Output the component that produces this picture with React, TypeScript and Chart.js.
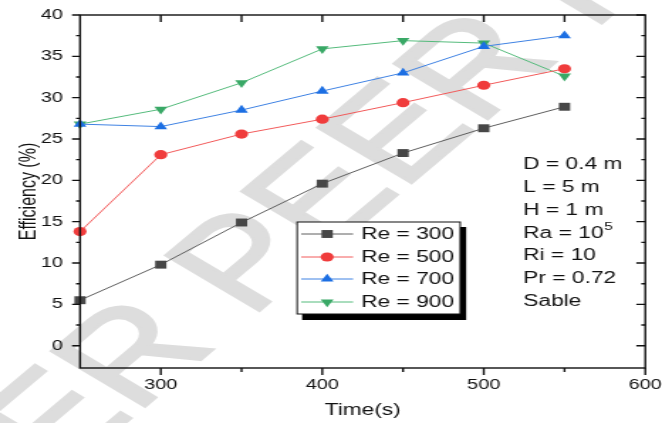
import React, { useEffect, useRef } from "react";
import { Chart, registerables } from "chart.js";
Chart.register(...registerables);

// ---- data ----
const timeValues = [250, 300, 350, 400, 450, 500, 550];
const re300 = [5.5, 9.8, 14.9, 19.6, 23.3, 26.3, 28.9];
const re500 = [13.8, 23.1, 25.6, 27.4, 29.4, 31.5, 33.5];
const re700 = [26.8, 26.5, 28.5, 30.8, 33.0, 36.2, 37.5];
const re900 = [26.8, 28.6, 31.8, 35.9, 36.9, 36.6, 32.6];
const seriesNames = ["Re = 300", "Re = 500", "Re = 700", "Re = 900"];
const xTickValues = [300, 400, 500, 600];
const xMinorValues = [350, 450, 550];
const yTickValues = [0, 5, 10, 15, 20, 25, 30, 35, 40];
const yMinorValues = [2.5, 7.5, 12.5, 17.5, 22.5, 27.5, 32.5, 37.5];
const infoLines = ["D = 0.4 m", "L = 5 m", "H = 1 m", "Ra = 10|5", "Ri = 10", "Pr = 0.72", "Sable"];
const watermarkText = "ER PEER R";

// ---- style ----
const S = 1.42; // horizontal stretch of the picture
const W = 662;
const H = 423;
const CW = Math.round(W / S);
const FONT = "'Liberation Sans', Arial, sans-serif";
const markerColors = ["#474747", "#f03c3c", "#1c6fe3", "#39a866"];
const lineColors = ["#5e5e5e", "#f25a5a", "#3f82e3", "#55bb7c"];
const pointStyles = ["rect", "circle", "triangle", "triangle"];
const pointRots = [0, 0, 0, 180];
const pointRadii = [5.6, 4.6, 5.2, 5.2];

function drawMarker(ctx: CanvasRenderingContext2D, idx: number, x: number, y: number) {
  const r = pointRadii[idx];
  ctx.fillStyle = markerColors[idx];
  ctx.beginPath();
  if (idx === 0) {
    const s = r * Math.SQRT1_2;
    ctx.rect(x - s, y - s, 2 * s, 2 * s);
  } else if (idx === 1) {
    ctx.arc(x, y, r, 0, Math.PI * 2);
  } else {
    const dir = idx === 2 ? -1 : 1;
    ctx.moveTo(x, y + dir * r);
    ctx.lineTo(x + r * Math.sin(Math.PI / 3), y - dir * r * 0.5);
    ctx.lineTo(x - r * Math.sin(Math.PI / 3), y - dir * r * 0.5);
    ctx.closePath();
  }
  ctx.fill();
}

const decorPlugin = {
  id: "decor",
  beforeDraw(chart: any) {
    const ctx = chart.ctx as CanvasRenderingContext2D;
    ctx.save();
    ctx.translate(42, 478);
    ctx.rotate((-50 * Math.PI) / 180);
    ctx.font = `125px ${FONT}`;
    ctx.fillStyle = "#dddddd";
    ctx.strokeStyle = "#dddddd";
    ctx.lineWidth = 2.5;
    ctx.textBaseline = "alphabetic";
    ctx.fillText(watermarkText, 0, 0);
    ctx.strokeText(watermarkText, 0, 0);
    ctx.restore();
  },
  afterDraw(chart: any) {
    const ctx = chart.ctx as CanvasRenderingContext2D;
    const { left, right, top, bottom } = chart.chartArea;
    const xs = chart.scales.x;
    const ys = chart.scales.y;
    ctx.save();
    ctx.strokeStyle = "#111";
    ctx.lineWidth = 1.4;
    ctx.strokeRect(left, top, right - left, bottom - top);
    ctx.beginPath();
    yTickValues.forEach((v) => {
      const y = ys.getPixelForValue(v);
      ctx.moveTo(left, y);
      ctx.lineTo(left - 8 / S, y);
      ctx.moveTo(right, y);
      ctx.lineTo(right - 9 / S, y);
    });
    yMinorValues.forEach((v) => {
      const y = ys.getPixelForValue(v);
      ctx.moveTo(left, y);
      ctx.lineTo(left - 4 / S, y);
      ctx.moveTo(right, y);
      ctx.lineTo(right - 4 / S, y);
    });
    xTickValues.forEach((v) => {
      const x = xs.getPixelForValue(v);
      ctx.moveTo(x, bottom);
      ctx.lineTo(x, bottom + 7);
      if (v < 600) {
        ctx.moveTo(x, top);
        ctx.lineTo(x, top + 7);
      }
    });
    xMinorValues.forEach((v) => {
      const x = xs.getPixelForValue(v);
      ctx.moveTo(x, bottom);
      ctx.lineTo(x, bottom + 4);
      ctx.moveTo(x, top);
      ctx.lineTo(x, top + 7);
    });
    ctx.stroke();

    // legend
    const bx = 297 / S, by = 222, bw = (460 - 297) / S, bh = 92;
    ctx.fillStyle = "#000";
    ctx.fillRect(bx + 5 / S, by + 5, bw + 1 / S, bh + 1);
    ctx.fillStyle = "#fff";
    ctx.fillRect(bx, by, bw, bh);
    ctx.lineWidth = 1;
    ctx.strokeStyle = "#111";
    ctx.strokeRect(bx, by, bw, bh);
    const rowsY = [234, 257, 279, 302];
    ctx.font = `16px ${FONT}`;
    ctx.textBaseline = "middle";
    ctx.textAlign = "left";
    seriesNames.forEach((name, i) => {
      const y = rowsY[i];
      ctx.strokeStyle = lineColors[i];
      ctx.lineWidth = 1;
      ctx.beginPath();
      ctx.moveTo(301 / S, y);
      ctx.lineTo(353 / S, y);
      ctx.stroke();
      drawMarker(ctx, i, 327 / S, y);
      ctx.fillStyle = "#111";
      ctx.fillText(name, 361 / S, y + 1);
    });

    // info text
    ctx.fillStyle = "#111";
    const ix = 523 / S;
    infoLines.forEach((line, i) => {
      const y = 165 + i * 22.7;
      const parts = line.split("|");
      ctx.font = `16px ${FONT}`;
      ctx.fillText(parts[0], ix, y);
      if (parts[1]) {
        const w = ctx.measureText(parts[0]).width;
        ctx.font = `11px ${FONT}`;
        ctx.fillText(parts[1], ix + w + 0.5, y - 6);
      }
    });
    ctx.restore();
  },
};

export default function App() {
  const ref = useRef<HTMLCanvasElement | null>(null);
  useEffect(() => {
    if (!ref.current) return;
    const all = [re300, re500, re700, re900];
    const chart = new Chart(ref.current, {
      type: "line",
      data: {
        labels: timeValues,
        datasets: all.map((vals, i) => ({
          label: seriesNames[i],
          data: vals.map((v, k) => ({ x: timeValues[k], y: v })),
          borderColor: lineColors[i],
          backgroundColor: markerColors[i],
          borderWidth: 1,
          pointStyle: pointStyles[i] as any,
          rotation: pointRots[i],
          pointRadius: pointRadii[i],
          pointBorderWidth: 0,
          pointBackgroundColor: markerColors[i],
          pointBorderColor: markerColors[i],
          tension: 0,
          clip: false as any,
        })),
      },
      options: {
        animation: false,
        responsive: false,
        devicePixelRatio: 1,
        layout: { padding: { left: 0, top: 15, right: CW - 645 / S, bottom: 0 } },
        plugins: { legend: { display: false }, tooltip: { enabled: false } },
        scales: {
          x: {
            type: "linear",
            min: 250,
            max: 600,
            grid: { display: false, drawTicks: false },
            border: { display: false },
            afterBuildTicks: (s: any) => {
              s.ticks = xTickValues.map((v) => ({ value: v }));
            },
            afterFit: (s: any) => {
              s.height = 55;
              s.paddingLeft = 0;
              s.paddingRight = 0;
            },
            ticks: { font: { family: FONT, size: 14 }, color: "#111", padding: 9, maxRotation: 0 },
            title: {
              display: true,
              text: "Time(s)",
              font: { family: FONT, size: 16 },
              color: "#111",
              padding: { top: 0, bottom: 3 },
            },
          },
          y: {
            type: "linear",
            min: -2.7,
            max: 40,
            grid: { display: false, drawTicks: false },
            border: { display: false },
            afterBuildTicks: (s: any) => {
              s.ticks = yTickValues.map((v) => ({ value: v }));
            },
            afterFit: (s: any) => {
              s.width = 80 / S;
              s.paddingTop = 0;
              s.paddingBottom = 0;
            },
            ticks: { font: { family: FONT, size: 14 }, color: "#111", padding: 12 },
            title: {
              display: true,
              text: "Efficiency (%)",
              font: { family: FONT, size: 16 },
              color: "#111",
              padding: { top: 11, bottom: 0 },
            },
          },
        },
      },
      plugins: [decorPlugin],
    });
    return () => chart.destroy();
  }, []);
  return (
    <div style={{ position: "fixed", left: 0, top: 0, width: W, height: H, background: "#fff" }}>
      <canvas ref={ref} width={CW} height={H} style={{ width: W + "px", height: H + "px", display: "block" }} />
    </div>
  );
}
